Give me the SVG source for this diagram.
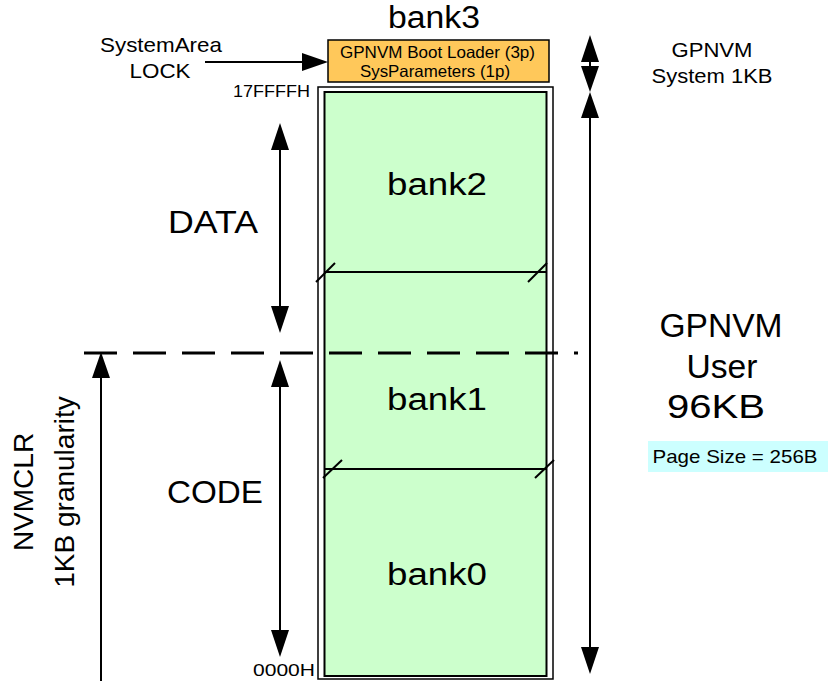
<svg xmlns="http://www.w3.org/2000/svg" width="828" height="681" viewBox="0 0 828 681">
<style>
text{font-family:"Liberation Sans",Arial,sans-serif;fill:#000}
.ln{stroke:#000;stroke-width:2;fill:none}
.ah{fill:#000}
</style>
<rect width="828" height="681" fill="#fff"/>
<g id="memory">
<rect x="318" y="87" width="235" height="592" fill="#fff" stroke="#000" stroke-width="1.5"/>
<rect x="324.5" y="92" width="222" height="584" fill="#ccffcc" stroke="#000" stroke-width="2"/>
</g>
<g id="bank3">
<rect x="328" y="40" width="221" height="42" fill="#ffc85a" stroke="#000" stroke-width="1.5"/>
<text x="434" y="28" font-size="31" text-anchor="middle" textLength="92" lengthAdjust="spacingAndGlyphs">bank3</text>
<text x="437.5" y="58" font-size="16.5" text-anchor="middle" textLength="195" lengthAdjust="spacingAndGlyphs">GPNVM Boot Loader (3p)</text>
<text x="435" y="77" font-size="16.5" text-anchor="middle" textLength="150" lengthAdjust="spacingAndGlyphs">SysParameters (1p)</text>
</g>
<g id="bank2"><text x="437" y="195" font-size="31" text-anchor="middle" textLength="100" lengthAdjust="spacingAndGlyphs">bank2</text></g>
<g id="bank1"><text x="437" y="410" font-size="31" text-anchor="middle" textLength="100" lengthAdjust="spacingAndGlyphs">bank1</text></g>
<g id="bank0"><text x="437" y="585" font-size="31" text-anchor="middle" textLength="100" lengthAdjust="spacingAndGlyphs">bank0</text></g>
<g id="labels">
<text x="161" y="52" font-size="21" text-anchor="middle" textLength="122" lengthAdjust="spacingAndGlyphs">SystemArea</text>
<text x="160" y="78" font-size="21" text-anchor="middle" textLength="61" lengthAdjust="spacingAndGlyphs">LOCK</text>
<text x="271.5" y="97" font-size="17" text-anchor="middle" textLength="77" lengthAdjust="spacingAndGlyphs">17FFFFH</text>
<text x="284" y="676" font-size="17" text-anchor="middle" textLength="62" lengthAdjust="spacingAndGlyphs">0000H</text>
<text x="712" y="57" font-size="20" text-anchor="middle" textLength="81" lengthAdjust="spacingAndGlyphs">GPNVM</text>
<text x="712" y="83" font-size="20" text-anchor="middle" textLength="121" lengthAdjust="spacingAndGlyphs">System 1KB</text>
<text x="213" y="233" font-size="31" text-anchor="middle" textLength="90" lengthAdjust="spacingAndGlyphs">DATA</text>
<text x="215" y="503" font-size="31" text-anchor="middle" textLength="96" lengthAdjust="spacingAndGlyphs">CODE</text>
<text x="721" y="337" font-size="33" text-anchor="middle" textLength="123" lengthAdjust="spacingAndGlyphs">GPNVM</text>
<text x="722" y="378" font-size="33" text-anchor="middle" textLength="71" lengthAdjust="spacingAndGlyphs">User</text>
<text x="716" y="418" font-size="33" text-anchor="middle" textLength="98" lengthAdjust="spacingAndGlyphs">96KB</text>
<rect x="648" y="441" width="180" height="31" fill="#ccffff"/>
<text x="735" y="463" font-size="19" text-anchor="middle" textLength="165" lengthAdjust="spacingAndGlyphs">Page Size = 256B</text>
<text transform="translate(33,492) rotate(-90)" font-size="28" text-anchor="middle">NVMCLR</text>
<text transform="translate(74,492) rotate(-90)" font-size="28" text-anchor="middle">1KB granularity</text>
</g>
<g id="connectors">
<line class="ln" x1="325" y1="272" x2="547" y2="272"/>
<line class="ln" x1="316" y1="282" x2="335" y2="263"/>
<line class="ln" x1="528" y1="282" x2="547" y2="263"/>
<line class="ln" x1="325" y1="469" x2="547" y2="469"/>
<line class="ln" x1="323" y1="478" x2="342" y2="460"/>
<line class="ln" x1="535" y1="478" x2="554" y2="460"/>
<line x1="84" y1="353" x2="578" y2="353" stroke="#000" stroke-width="3" stroke-dasharray="33,16"/>
<line class="ln" x1="205" y1="62" x2="305" y2="62"/>
<polygon class="ah" points="328,62 302,53 302,71"/>
<line class="ln" x1="280" y1="145" x2="280" y2="310"/>
<polygon class="ah" points="280,123 271,150 289,150"/>
<polygon class="ah" points="280,333 271,306 289,306"/>
<line class="ln" x1="280" y1="383" x2="280" y2="635"/>
<polygon class="ah" points="280,360 271,387 289,387"/>
<polygon class="ah" points="280,657 271,630 289,630"/>
<line class="ln" x1="590" y1="55" x2="590" y2="72"/>
<polygon class="ah" points="590,35 581,62 599,62"/>
<polygon class="ah" points="590,92 581,66 599,66"/>
<line class="ln" x1="590" y1="112" x2="590" y2="652"/>
<polygon class="ah" points="590,92 581,118 599,118"/>
<polygon class="ah" points="590,674 581,647 599,647"/>
<line class="ln" x1="101" y1="372" x2="101" y2="681"/>
<polygon class="ah" points="101,352 92,378 110,378"/>
</g>
</svg>
